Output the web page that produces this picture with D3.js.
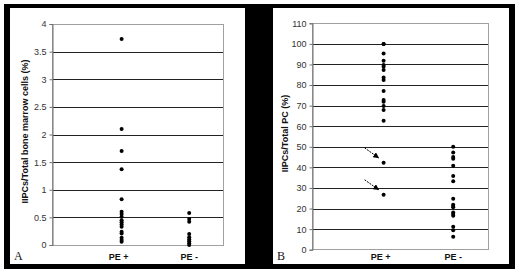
<!DOCTYPE html>
<html>
<head>
<meta charset="utf-8">
<script src="https://cdn.jsdelivr.net/npm/d3@7"></script>
<style>
  body { margin: 0; background: #fff; }
  svg text { font-family: "Liberation Sans", Arial, sans-serif; }
</style>
</head>
<body>
<svg id="chart" width="520" height="275"></svg>
<script>
// panel A: IIPCs / total bone marrow cells (%)
const categories = ['PE +', 'PE -'];
const bmPosValues = [3.73, 2.10, 1.70, 1.37, 0.83, 0.60, 0.56, 0.51, 0.45, 0.41, 0.37, 0.33, 0.24, 0.21, 0.13, 0.09, 0.06];
const bmNegValues = [0.58, 0.47, 0.42, 0.20, 0.14, 0.10, 0.07, 0.03, 0.0];
const bmTicks = [0, 0.5, 1, 1.5, 2, 2.5, 3, 3.5, 4];

// panel B: IIPCs / total PC (%)
const pcPosValues = [100, 100, 95.3, 91.8, 89.8, 88.9, 87.3, 83.7, 82.4, 77.1, 72.7, 71.9, 69.8, 67.9, 62.6, 42.2, 26.7];
const pcNegValues = [50, 47.2, 45.1, 44.2, 40.8, 35.8, 33.2, 24.8, 21.8, 21.2, 20.6, 18.1, 17.3, 16.5, 11.2, 9.5, 6.3];
const pcTicks = [0, 10, 20, 30, 40, 50, 60, 70, 80, 90, 100, 110];
const pcArrowTargets = [42.2, 26.7];

const svg = d3.select('#chart');

// black frame with two white panels
svg.append('rect').attr('x', 4).attr('y', 4).attr('width', 511).attr('height', 265).attr('fill', '#000');
svg.append('rect').attr('x', 10).attr('y', 8).attr('width', 235).attr('height', 256).attr('fill', '#fff');
svg.append('rect').attr('x', 273).attr('y', 8).attr('width', 236).attr('height', 256).attr('fill', '#fff');

svg.append('defs').append('marker')
    .attr('id', 'arrow')
    .attr('viewBox', '0 0 10 10')
    .attr('refX', 9).attr('refY', 5)
    .attr('markerWidth', 6).attr('markerHeight', 6)
    .attr('orient', 'auto')
    .append('path')
    .attr('d', 'M0,0 L10,5 L0,10 z')
    .attr('fill', '#000');

function drawPanel(cfg) {
    const g = svg.append('g');

    const x = d3.scaleLinear().domain([0, 2.5]).range([cfg.left + 2, cfg.right]);
    const y = d3.scaleLinear().domain([0, d3.max(cfg.ticks)]).range([cfg.bottom, cfg.top]);

    // gridlines
    g.selectAll('.grid')
        .data(cfg.ticks.filter(t => t > 0 && t < d3.max(cfg.ticks)))
        .enter().append('line')
        .attr('x1', cfg.left).attr('x2', cfg.right)
        .attr('y1', d => Math.round(y(d)) + 0.5).attr('y2', d => Math.round(y(d)) + 0.5)
        .attr('stroke', '#222')
        .attr('stroke-width', 1.2);

    // plot border
    g.append('rect')
        .attr('x', cfg.left + 0.5).attr('y', Math.round(cfg.top) + 0.5)
        .attr('width', cfg.right - cfg.left).attr('height', Math.round(cfg.bottom - cfg.top))
        .attr('fill', 'none')
        .attr('stroke', '#a0a0a0');

    // y axis
    const yAxis = d3.axisLeft(y).tickValues(cfg.ticks).tickSize(3).tickPadding(3)
        .tickFormat(d => String(d));
    const ax = g.append('g')
        .attr('transform', `translate(${cfg.left + 0.5},0)`)
        .call(yAxis);
    ax.select('.domain').attr('stroke', '#707070');
    ax.selectAll('.tick line').attr('stroke', '#707070');
    ax.selectAll('.tick text')
        .attr('font-size', '9px')
        .attr('fill', '#333')
        .style('font-family', '"Liberation Sans", Arial, sans-serif');

    // y title
    g.append('text')
        .attr('transform', `translate(${cfg.titleX},${(cfg.top + cfg.bottom) / 2 - 3}) rotate(-90)`)
        .attr('text-anchor', 'middle')
        .attr('font-size', '9px')
        .attr('font-weight', 'bold')
        .attr('fill', '#111')
        .text(cfg.title);

    // category labels
    g.selectAll('.cat')
        .data(categories)
        .enter().append('text')
        .attr('x', (d, i) => x(i + 1) - (i === 0 ? 3 : 0))
        .attr('y', 260)
        .attr('text-anchor', 'middle')
        .attr('font-size', '9px')
        .attr('font-weight', 'bold')
        .attr('fill', '#111')
        .text(d => d);

    // points
    const pts = [];
    cfg.series.forEach((vals, i) => vals.forEach(v => pts.push({ cat: i + 1, v: v })));
    g.selectAll('.pt')
        .data(pts)
        .enter().append('circle')
        .attr('cx', d => x(d.cat))
        .attr('cy', d => y(d.v))
        .attr('r', 2)
        .attr('fill', '#000');

    // panel letter
    g.append('text')
        .attr('x', cfg.letterX)
        .attr('y', 260)
        .attr('font-size', '12px')
        .style('font-family', '"Liberation Serif", "Times New Roman", serif')
        .attr('fill', '#111')
        .text(cfg.letter);

    return { x: x, y: y, g: g };
}

drawPanel({
    left: 52, right: 223, top: 24, bottom: 245,
    ticks: bmTicks, series: [bmPosValues, bmNegValues],
    title: 'IIPCs/Total bone marrow cells (%)', titleX: 28,
    letter: 'A', letterX: 14
});

const pB = drawPanel({
    left: 312, right: 488, top: 23.3, bottom: 249.7,
    ticks: pcTicks, series: [pcPosValues, pcNegValues],
    title: 'IIPCs/Total PC (%)', titleX: 288,
    letter: 'B', letterX: 277
});

// dashed arrows pointing at the two PE+ outliers
pB.g.selectAll('.arrow')
    .data(pcArrowTargets)
    .enter().append('line')
    .attr('x1', pB.x(1) - 19).attr('y1', d => pB.y(d) - 15)
    .attr('x2', pB.x(1) - 5).attr('y2', d => pB.y(d) - 5)
    .attr('stroke', '#000')
    .attr('stroke-width', 1)
    .attr('stroke-dasharray', '2,1')
    .attr('marker-end', 'url(#arrow)');
</script>
</body>
</html>
